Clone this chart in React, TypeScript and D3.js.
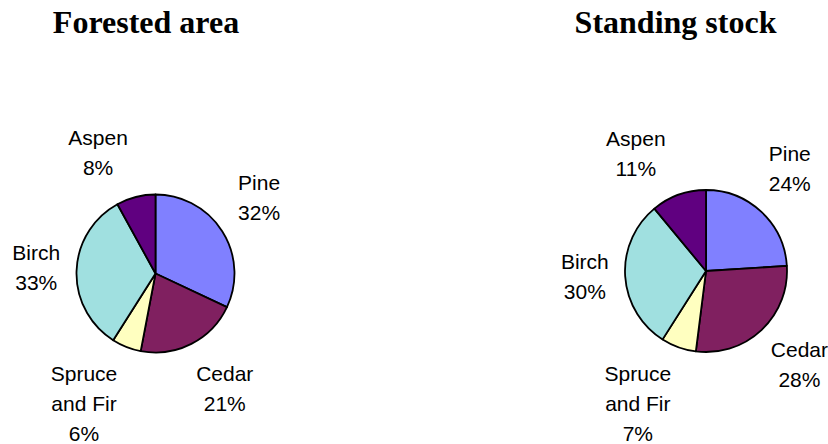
import * as d3 from "d3";
import { useEffect, useRef } from "react";

// Species, clockwise from 12 o'clock
const CATEGORIES = ["Pine", "Cedar", "Spruce and Fir", "Birch", "Aspen"];
const FORESTED_AREA = [32, 21, 6, 33, 8];
const STANDING_STOCK = [24, 28, 7, 30, 11];
const COLORS = ["#8080ff", "#802060", "#ffffc0", "#a0e0e0", "#600080"];

// Excel-style "best fit" nudges on the label angle (degrees)
const LABEL_SHIFT = [-4, -4, 7, 1, -11];

const W = 828;
const H = 444;
const FONT = "'Liberation Sans', Arial, sans-serif";
const LINE_H = 30;

const CHARTS = [
  { title: "Forested area", values: FORESTED_AREA, cx: 155.5, cy: 273.5, r: 79, titleX: 146 },
  { title: "Standing stock", values: STANDING_STOCK, cx: 706, cy: 271, r: 81, titleX: 675.5 },
];

export default function App() {
  const svgRef = useRef<SVGSVGElement>(null);

  useEffect(() => {
    if (!svgRef.current) return;
    const svg = d3.select(svgRef.current);
    svg.selectAll("*").remove();

    const pie = d3.pie<number>().value((d) => d).sort(null);

    CHARTS.forEach((c) => {
      svg
        .append("text")
        .attr("x", c.titleX)
        .attr("y", 33)
        .attr("text-anchor", "middle")
        .attr("font-family", "'Liberation Serif', 'Times New Roman', serif")
        .attr("font-weight", "bold")
        .attr("font-size", 32)
        .attr("fill", "#000")
        .text(c.title);

      const g = svg.append("g").attr("transform", `translate(${c.cx},${c.cy})`);
      const arc = d3.arc<d3.PieArcDatum<number>>().innerRadius(0).outerRadius(c.r);
      const arcs = pie(c.values);

      g.selectAll("path")
        .data(arcs)
        .join("path")
        .attr("d", arc)
        .attr("fill", (_, i) => COLORS[i])
        .attr("stroke", "#000")
        .attr("stroke-width", 1.8)
        .attr("stroke-linejoin", "round");

      arcs.forEach((d, i) => {
        const t = g
          .append("text")
          .attr("text-anchor", "middle")
          .attr("font-family", FONT)
          .attr("font-size", 21)
          .attr("fill", "#000");

        // greedy word wrap at ~72px
        const words = CATEGORIES[i].split(" ");
        const lines: string[] = [];
        const probe = t.append("tspan");
        let cur = "";
        words.forEach((w) => {
          const next = cur ? cur + " " + w : w;
          probe.text(next);
          if (cur && (probe.node() as SVGTSpanElement).getComputedTextLength() > 72) {
            lines.push(cur);
            cur = w;
          } else cur = next;
        });
        lines.push(cur);
        lines.push(`${d.data}%`);

        let w = 0;
        lines.forEach((l) => {
          probe.text(l);
          w = Math.max(w, (probe.node() as SVGTSpanElement).getComputedTextLength());
        });
        probe.remove();

        const h = lines.length * LINE_H;
        const a = (d.startAngle + d.endAngle) / 2 + (LABEL_SHIFT[i] * Math.PI) / 180;
        const s = Math.sin(a);
        const co = Math.cos(a);
        const dist = c.r + 15 + (w / 2) * Math.abs(s) + (h / 2) * Math.abs(co);
        // keep the label box inside the chart horizontally
        const lx = Math.max(w / 2 - c.cx, Math.min(W - c.cx - w / 2, dist * s));
        const top = -dist * co - ((lines.length - 1) * LINE_H) / 2 + 7.5;
        // last baseline stays just above the bottom edge
        const ly = Math.min(top, H - 3 - c.cy - (lines.length - 1) * LINE_H);

        t.selectAll("tspan")
          .data(lines)
          .join("tspan")
          .attr("x", lx)
          .attr("y", (_, k) => ly + k * LINE_H)
          .text((l) => l);
      });
    });
  }, []);

  return (
    <svg
      ref={svgRef}
      width={W}
      height={H}
      viewBox={`0 0 ${W} ${H}`}
      style={{ position: "absolute", left: 0, top: 0, background: "#fff" }}
    />
  );
}
